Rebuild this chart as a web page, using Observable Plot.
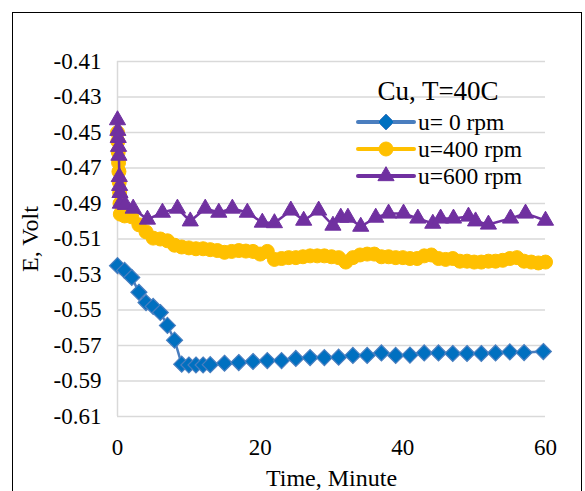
<!DOCTYPE html>
<html><head><meta charset="utf-8">
<script src="https://cdn.jsdelivr.net/npm/d3@7"></script>
<script src="https://cdn.jsdelivr.net/npm/@observablehq/plot@0.6"></script>
<style>
body{margin:0;background:#fff;}
#wrap{position:relative;width:585px;height:491px;overflow:hidden;font-family:"Liberation Serif","Times New Roman",serif;background:#fff;}
#frame{position:absolute;left:12px;top:12px;width:570px;height:520px;border:1.5px solid #000;box-sizing:border-box;pointer-events:none;}
#chart{position:absolute;left:0;top:0;}
.lg{position:absolute;color:#000;white-space:nowrap;}
.lgt{font-size:27px;line-height:30px;text-align:center;}
.lgr{font-size:23.5px;line-height:26px;}
</style></head>
<body>
<div id="wrap"><div id="chart"></div><div id="frame"></div><div id="legend"></div></div>
<script>
// ---- data ----
const seriesNames = ["u= 0 rpm", "u=400 rpm", "u=600 rpm"];
const chartTitle = "Cu, T=40C";
const xTitle = "Time, Minute";
const yTitle = "E, Volt";
const xTicks = [0, 20, 40, 60];
const yTicks = [-0.61, -0.59, -0.57, -0.55, -0.53, -0.51, -0.49, -0.47, -0.45, -0.43, -0.41];

const blueTime = [0,1,2,3,4,5,6,7,8,9,10,11,12,13,15,17,19,21,23,25,27,29,31,33,35,37,39,41,43,45,47,49,51,53,55,57,59.7];
const blueE = [-0.525,-0.5277,-0.5317,-0.540,-0.5458,-0.548,-0.5514,-0.5587,-0.567,-0.5805,-0.581,-0.581,-0.581,-0.5808,
  -0.580,-0.5796,-0.579,-0.5785,-0.5785,-0.5773,-0.5768,-0.5768,-0.5766,-0.5756,-0.5756,-0.5742,-0.5756,-0.5754,
  -0.5742,-0.5742,-0.5745,-0.5745,-0.5745,-0.5742,-0.5736,-0.5740,-0.5734];

const yellowTime = [0,0.05,0.1,0.15,0.2,0.25,0.3,0.35,0.4,1,2,3,4,5,6,7,8,9,10,11,12,13,14,15,16,17,18,19,20,21,22,23,24,25,26,27,28,29,30,
  31,32,33,34,35,36,37,38,39,40,41,42,43,44,45,46,47,48,49,50,51,52,53,54,55,56,57,58,59,60];
const yellowE = [-0.450,-0.455,-0.461,-0.467,-0.472,-0.478,-0.484,-0.490,-0.496,-0.497,-0.4975,-0.502,-0.506,-0.5095,-0.510,-0.511,
  -0.5135,-0.5145,-0.515,-0.5155,-0.5155,-0.516,-0.5165,-0.5175,-0.517,-0.5165,-0.5168,-0.517,-0.5185,-0.517,-0.5215,-0.521,
  -0.5205,-0.5205,-0.520,-0.5195,-0.5195,-0.5195,-0.520,-0.5205,-0.523,-0.5205,-0.519,-0.5185,-0.5185,-0.520,-0.520,-0.5205,
  -0.5205,-0.521,-0.521,-0.5195,-0.519,-0.521,-0.5215,-0.521,-0.5225,-0.5225,-0.523,-0.523,-0.5225,-0.5225,-0.522,-0.521,
  -0.5205,-0.5225,-0.523,-0.5235,-0.523];

const purpleTime = [0,0.05,0.1,0.15,0.2,0.25,0.3,0.35,0.4,1.1,2.2,4.2,6.3,8.4,10.2,12.3,14.2,16.1,18.2,20.3,22,24.3,26.1,28.2,30.2,
  31.3,32.3,34.1,36.2,38,40.1,42.1,44.2,45.3,47.1,49.2,50.2,52,55.1,57.2,60];
const purpleE = [-0.443,-0.449,-0.453,-0.458,-0.463,-0.475,-0.480,-0.484,-0.490,-0.4907,-0.4928,-0.499,-0.4951,-0.4928,-0.500,
  -0.4928,-0.4951,-0.4928,-0.4951,-0.5007,-0.501,-0.4939,-0.4996,-0.4939,-0.5024,-0.4979,-0.4979,-0.503,-0.4979,-0.4956,
  -0.4956,-0.4984,-0.5013,-0.4984,-0.4984,-0.4973,-0.500,-0.5018,-0.4984,-0.4956,-0.4996];

const lineColors = ["#4a7ebf", "#ffc000", "#7030a0"];
const markerFill = ["#0070c0", "#ffc000", "#7030a0"];
const markerStroke = ["#4a7ebf", "#ffc000", "#7030a0"];
const markerR = [7.2, 7, 6];

// ---- build tables ----
const blue = blueTime.map((t, i) => ({t, E: blueE[i]}));
const yellow = yellowTime.map((t, i) => ({t, E: yellowE[i]}));
const purple = purpleTime.map((t, i) => ({t, E: purpleE[i]}));

const font = "'Liberation Serif','Times New Roman',serif";

const chart = Plot.plot({
  width: 585,
  height: 491,
  marginLeft: 117,
  marginRight: 40,
  marginTop: 61,
  marginBottom: 75,
  x: {domain: [0, 60]},
  y: {domain: [-0.61, -0.41]},
  style: {fontFamily: font, fontSize: "23px", color: "#000", background: "transparent", overflow: "visible"},
  marks: [
    Plot.gridY(yTicks, {stroke: "#d9d9d9", strokeOpacity: 1, strokeWidth: 1.5}),
    Plot.ruleX([0], {stroke: "#d9d9d9", strokeWidth: 1.5}),
    Plot.axisY(yTicks, {tickSize: 0, tickPadding: 16, tickFormat: d => d.toFixed(2), label: null, fontSize: 23}),
    Plot.axisX(xTicks, {tickSize: 0, tickPadding: 22, tickFormat: d => String(d), label: null, fontSize: 23}),
    Plot.text([yTitle], {frameAnchor: "left", dx: -87, rotate: -90, textAnchor: "middle", lineAnchor: "middle", fontSize: 24}),
    Plot.text([xTitle], {frameAnchor: "bottom", dy: 62, textAnchor: "middle", lineAnchor: "middle", fontSize: 24}),
    Plot.line(blue, {x: "t", y: "E", stroke: lineColors[0], strokeWidth: 2.5}),
    Plot.dot(blue, {x: "t", y: "E", symbol: "diamond2", r: markerR[0], fill: markerFill[0], stroke: markerStroke[0], strokeWidth: 1.2}),
    Plot.line(yellow, {x: "t", y: "E", stroke: lineColors[1], strokeWidth: 2.5}),
    Plot.dot(yellow, {x: "t", y: "E", symbol: "circle", r: markerR[1], fill: markerFill[1], stroke: markerStroke[1], strokeWidth: 1}),
    Plot.line(purple, {x: "t", y: "E", stroke: lineColors[2], strokeWidth: 2.5}),
    Plot.dot(purple, {x: "t", y: "E", symbol: "triangle", r: markerR[2], fill: markerFill[2], stroke: markerStroke[2], strokeWidth: 1})
  ]
});
document.getElementById("chart").appendChild(chart);

// ---- legend (HTML overlay) ----
const lg = document.getElementById("legend");
const title = document.createElement("div");
title.className = "lg lgt";
title.style.left = "338px"; title.style.width = "200px"; title.style.top = "76px";
title.textContent = chartTitle;
lg.appendChild(title);
const symbolFns = [d3.symbolDiamond2, d3.symbolCircle, d3.symbolTriangle];
const rowCenters = [122, 149, 176];
seriesNames.forEach((name, i) => {
  const sv = d3.create("svg").attr("width", 62).attr("height", 22)
    .style("position", "absolute").style("left", "355px").style("top", (rowCenters[i] - 11) + "px");
  sv.append("line").attr("x1", 3).attr("x2", 59).attr("y1", 11).attr("y2", 11)
    .attr("stroke", lineColors[i]).attr("stroke-width", 4).attr("stroke-linecap", "round");
  const rr = markerR[i];
  sv.append("path").attr("transform", "translate(31,11)")
    .attr("d", d3.symbol(symbolFns[i], Math.PI * rr * rr)())
    .attr("fill", markerFill[i]).attr("stroke", markerStroke[i]).attr("stroke-width", 1);
  lg.appendChild(sv.node());
  const t = document.createElement("div");
  t.className = "lg lgr";
  t.style.left = "418px"; t.style.top = (rowCenters[i] - 13) + "px";
  t.textContent = name;
  lg.appendChild(t);
});
</script>
</body></html>
